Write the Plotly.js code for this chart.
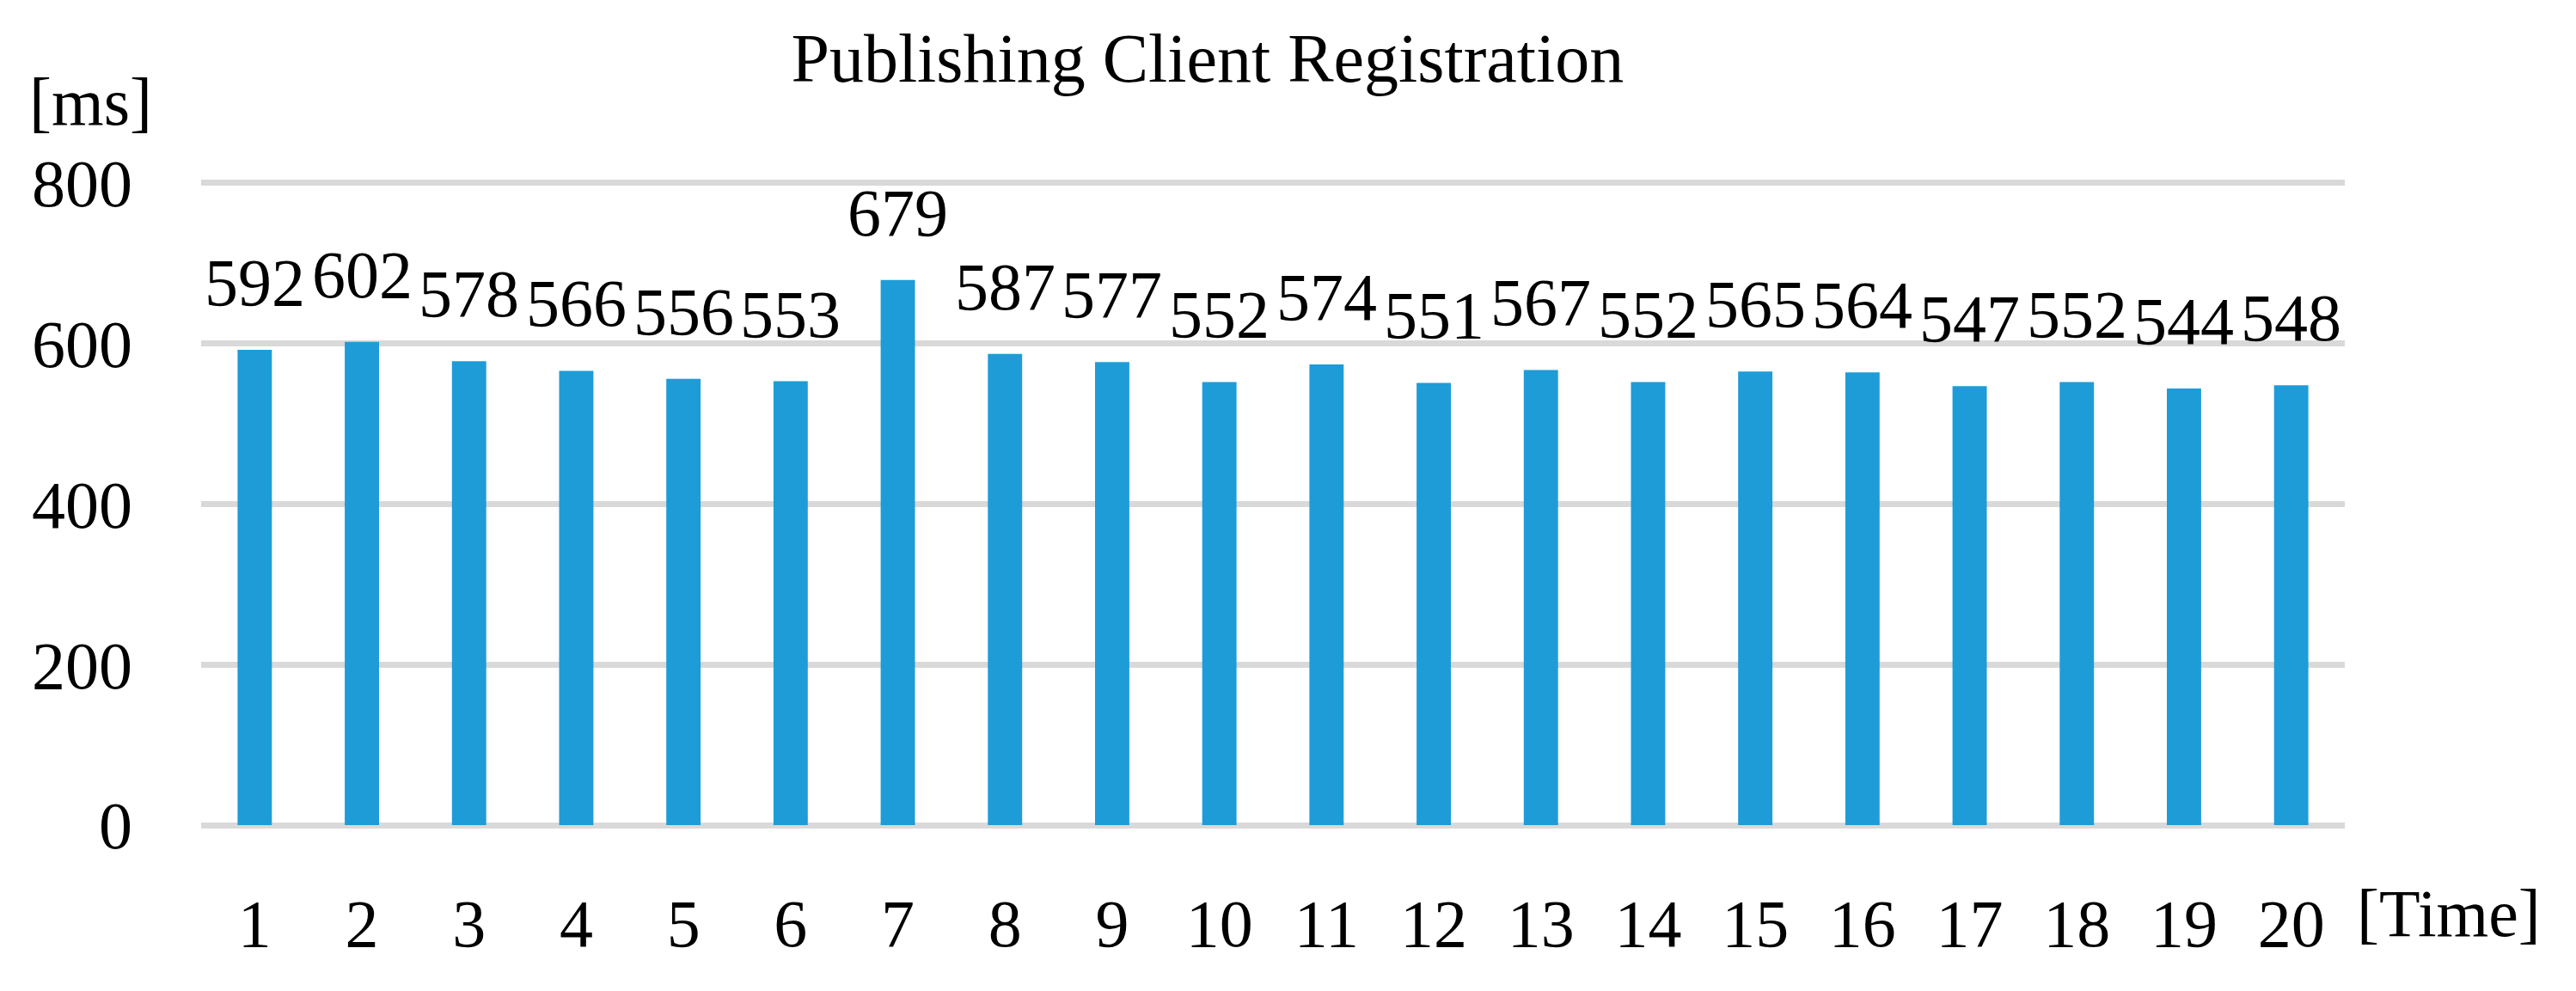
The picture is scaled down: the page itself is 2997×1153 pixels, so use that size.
<!DOCTYPE html>
<html>
<head>
<meta charset="utf-8">
<script src="https://cdn.plot.ly/plotly-3.0.1.min.js"></script>
<style>html,body{margin:0;padding:0;background:#fff;}#chart{width:2997px;height:1153px;}</style>
</head>
<body>
<div id="chart"></div>
<script>
const categories = ["1","2","3","4","5","6","7","8","9","10","11","12","13","14","15","16","17","18","19","20"];
const registrationMs = [592,602,578,566,556,553,679,587,577,552,574,551,567,552,565,564,547,552,544,548];
const yTickValues = [0,200,400,600,800];
const titleText = "Publishing Client Registration";
const yUnitText = "[ms]";
const xUnitText = "[Time]";

const FONT = "Liberation Serif, Times New Roman, serif";
const FS = 78;

const valueLabels = categories.map((c, i) => ({
  x: i, y: registrationMs[i], xref: "x", yref: "y",
  text: String(registrationMs[i]), showarrow: false,
  yanchor: "bottom", xanchor: "center", yshift: 33,
  font: {family: FONT, size: FS, color: "#000"}
}));

const data = [{
  type: "bar",
  x: categories,
  y: registrationMs,
  marker: {color: "#1e9cd8"},
  hoverinfo: "skip"
}];

const layout = {
  width: 2997, height: 1153,
  margin: {l: 234, r: 269, t: 211, b: 193},
  paper_bgcolor: "#fff", plot_bgcolor: "#fff",
  bargap: 0.68,
  showlegend: false,
  font: {family: FONT, size: FS, color: "#000"},
  title: {
    text: titleText,
    x: 1407/2997, xanchor: "center", xref: "paper",
    y: 1 - 67/1153, yanchor: "middle", yref: "container",
    font: {family: FONT, size: 80, color: "#000"}
  },
  xaxis: {
    type: "category",
    range: [-0.5, categories.length - 0.5],
    tickvals: categories, ticktext: categories,
    showgrid: false, showline: false, zeroline: false,
    ticks: "", ticklabelstandoff: 62,
    tickfont: {family: FONT, size: FS, color: "#000"}
  },
  yaxis: {
    range: [0, 802],
    tickvals: yTickValues, ticktext: yTickValues.map(String),
    showgrid: true, gridcolor: "#d9d9d9", gridwidth: 7,
    zeroline: true, zerolinecolor: "#d9d9d9", zerolinewidth: 7,
    showline: false, ticks: "", ticklabelstandoff: 79,
    tickfont: {family: FONT, size: FS, color: "#000"}
  },
  annotations: valueLabels.concat([
    {text: yUnitText, xref: "paper", yref: "paper", x: -129/2494, y: 1 + 93/749,
     xanchor: "center", yanchor: "middle", showarrow: false,
     font: {family: FONT, size: FS, color: "#000"}},
    {text: xUnitText, xref: "paper", yref: "paper", x: (2849-234)/2494, y: -(1062-960)/749,
     xanchor: "center", yanchor: "middle", showarrow: false,
     font: {family: FONT, size: FS, color: "#000"}}
  ])
};

Plotly.newPlot("chart", data, layout, {displayModeBar: false, staticPlot: true});
</script>
</body>
</html>
